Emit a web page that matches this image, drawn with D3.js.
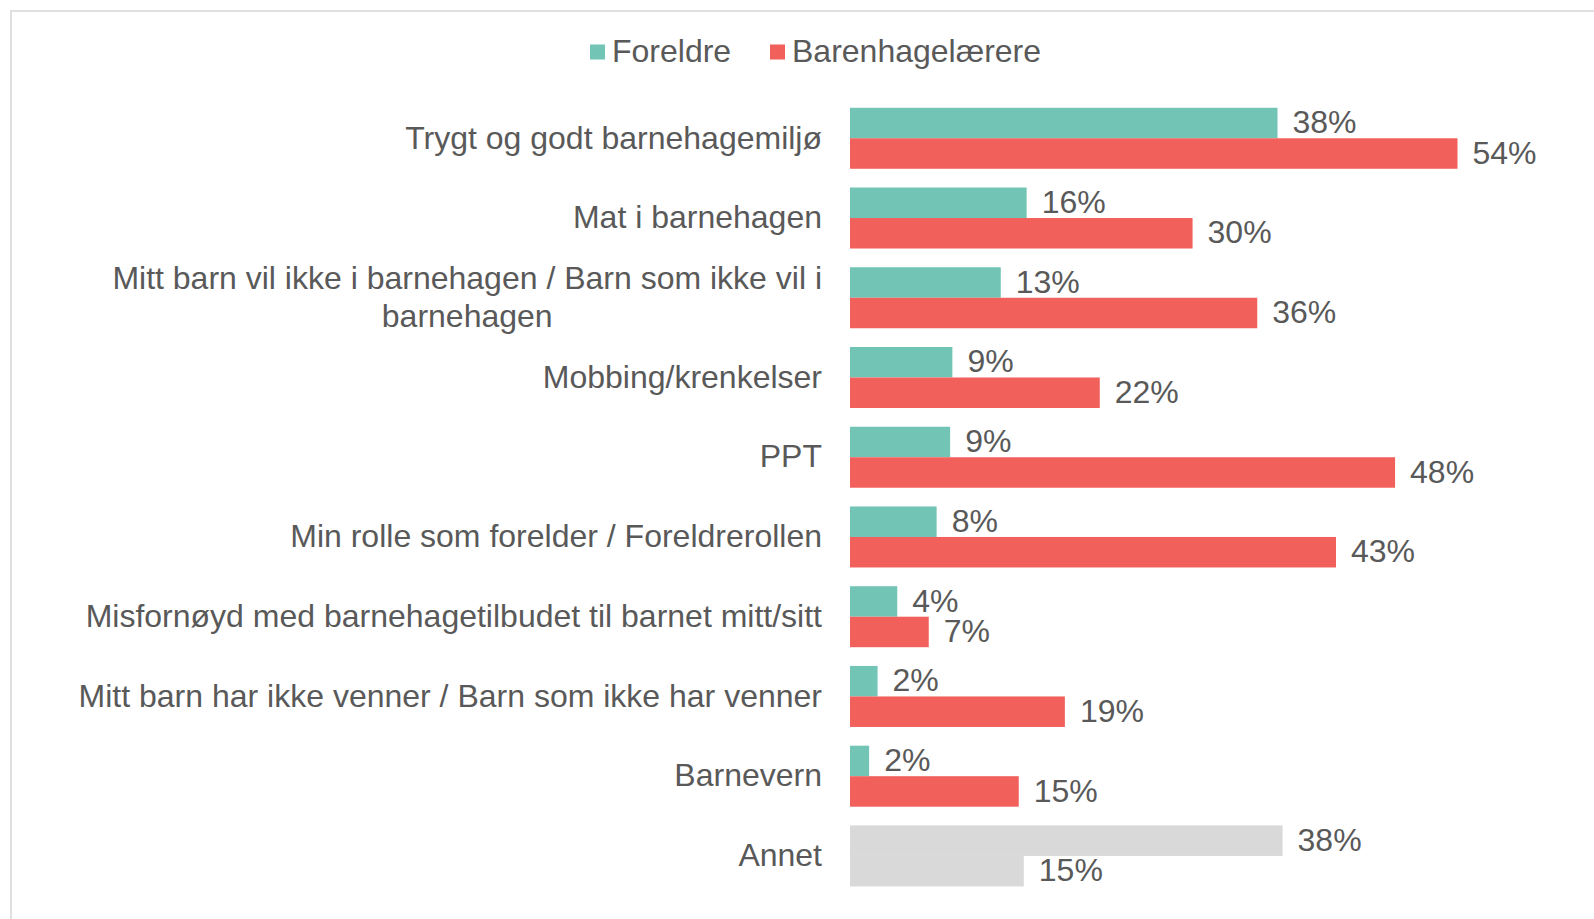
<!DOCTYPE html>
<html>
<head>
<meta charset="utf-8">
<script src="https://cdn.jsdelivr.net/npm/d3@7"></script>
<style>
  html, body { margin: 0; padding: 0; background: #fff; }
  svg { display: block; font-family: "Liberation Sans", Arial, sans-serif; }
</style>
</head>
<body>
<div id="chart"></div>
<script>
// kategorier (ovenfra og ned)
const categories = [
  "Trygt og godt barnehagemiljø",
  "Mat i barnehagen",
  "Mitt barn vil ikke i barnehagen / Barn som ikke vil i barnehagen",
  "Mobbing/krenkelser",
  "PPT",
  "Min rolle som forelder / Foreldrerollen",
  "Misfornøyd med barnehagetilbudet til barnet mitt/sitt",
  "Mitt barn har ikke venner / Barn som ikke har venner",
  "Barnevern",
  "Annet"
];
const series = ["Foreldre", "Barenhagelærere"];
// andeler i prosent (avlest fra stolpelengder, etikettene viser avrundet verdi)
const foreldre = [38.0, 15.7, 13.4, 9.1, 8.9, 7.7, 4.2, 2.45, 1.7, 38.45];
const laerere = [54.0, 30.45, 36.2, 22.2, 48.45, 43.2, 7.0, 19.1, 15.0, 15.45];

const W = 1594, H = 919;
const fontSize = 32;
const textColor = "#595959";
const colors = { "Foreldre": "#72c4b5", "Barenhagelærere": "#f2605b" };
const otherColor = "#d9d9d9";
const dyMid = "0.32em";

const svg = d3.select("#chart").append("svg")
  .attr("width", W).attr("height", H);

// ramme
svg.append("rect")
  .attr("x", 11).attr("y", 11)
  .attr("width", W + 20).attr("height", H + 20)
  .attr("fill", "none")
  .attr("stroke", "#e0e0e0")
  .attr("stroke-width", 2);

// Skalaer
const x = d3.scaleLinear().domain([0, 100]).range([850, 850 + 1125]);
const y = d3.scaleBand()
  .domain(categories)
  .range([98.4, 895.8])
  .paddingInner(0.235)
  .paddingOuter(0.1175);
const y1 = d3.scaleBand().domain(series).range([0, y.bandwidth()]).padding(0);

const rows = categories.map((c, i) => ({
  cat: c,
  vals: [
    { s: "Foreldre", v: foreldre[i] },
    { s: "Barenhagelærere", v: laerere[i] }
  ]
}));

const fmt = v => Math.round(v) + "%";

const g = svg.selectAll(".row")
  .data(rows)
  .enter().append("g")
  .attr("class", "row")
  .attr("transform", d => `translate(0,${y(d.cat)})`);

g.selectAll("rect")
  .data(d => d.vals.map(v => ({ ...v, cat: d.cat })))
  .enter().append("rect")
  .attr("x", x(0))
  .attr("y", d => y1(d.s))
  .attr("width", d => x(d.v) - x(0))
  .attr("height", y1.bandwidth())
  .attr("fill", d => d.cat === "Annet" ? otherColor : colors[d.s]);

g.selectAll("text.val")
  .data(d => d.vals)
  .enter().append("text")
  .attr("class", "val")
  .attr("x", d => x(d.v) + 15)
  .attr("y", d => y1(d.s) + y1.bandwidth() / 2)
  .attr("dy", dyMid)
  .attr("fill", textColor)
  .style("font-size", fontSize + "px")
  .text(d => fmt(d.v));

// Kategoriakse
const axis = svg.append("g")
  .attr("transform", `translate(${x(0) - 28},0)`)
  .call(d3.axisLeft(y).tickSize(0).tickPadding(0));
axis.select(".domain").remove();

const lh = 37.6;
axis.selectAll("text")
  .attr("fill", textColor)
  .style("font-size", fontSize + "px")
  .style("font-family", "'Liberation Sans', Arial, sans-serif")
  .each(function (d) {
    const t = d3.select(this);
    const maxW = 770;
    const words = d.split(" ");
    const lines = [];
    let line = [];
    t.text(null);
    const probe = t.append("tspan");
    words.forEach(w => {
      line.push(w);
      probe.text(line.join(" "));
      if (probe.node().getComputedTextLength() > maxW && line.length > 1) {
        line.pop();
        lines.push(line.join(" "));
        line = [w];
      }
    });
    lines.push(line.join(" "));
    probe.remove();
    if (lines.length === 1) {
      t.attr("dy", dyMid).text(lines[0]);
      return;
    }
    // flere linjer: sentrert mot hverandre, blokken høyrejustert
    const widths = lines.map(l => {
      const s = t.append("tspan").text(l);
      const w = s.node().getComputedTextLength();
      s.remove();
      return w;
    });
    const mw = d3.max(widths);
    t.attr("dy", null).attr("text-anchor", "middle");
    lines.forEach((l, i) => {
      t.append("tspan")
        .attr("x", -mw / 2)
        .attr("y", (i - (lines.length - 1) / 2) * lh)
        .attr("dy", dyMid)
        .text(l);
    });
  });

// Tegnforklaring
const legend = svg.append("g").attr("transform", "translate(0,52)");
const legendItems = [
  { s: "Foreldre", x: 590 },
  { s: "Barenhagelærere", x: 770 }
];
legendItems.forEach(it => {
  legend.append("rect")
    .attr("x", it.x).attr("y", -7.5)
    .attr("width", 15).attr("height", 15)
    .attr("fill", colors[it.s]);
  legend.append("text")
    .attr("x", it.x + 22)
    .attr("y", 0)
    .attr("dy", dyMid)
    .attr("fill", textColor)
    .style("font-size", fontSize + "px")
    .text(it.s);
});
</script>
</body>
</html>
